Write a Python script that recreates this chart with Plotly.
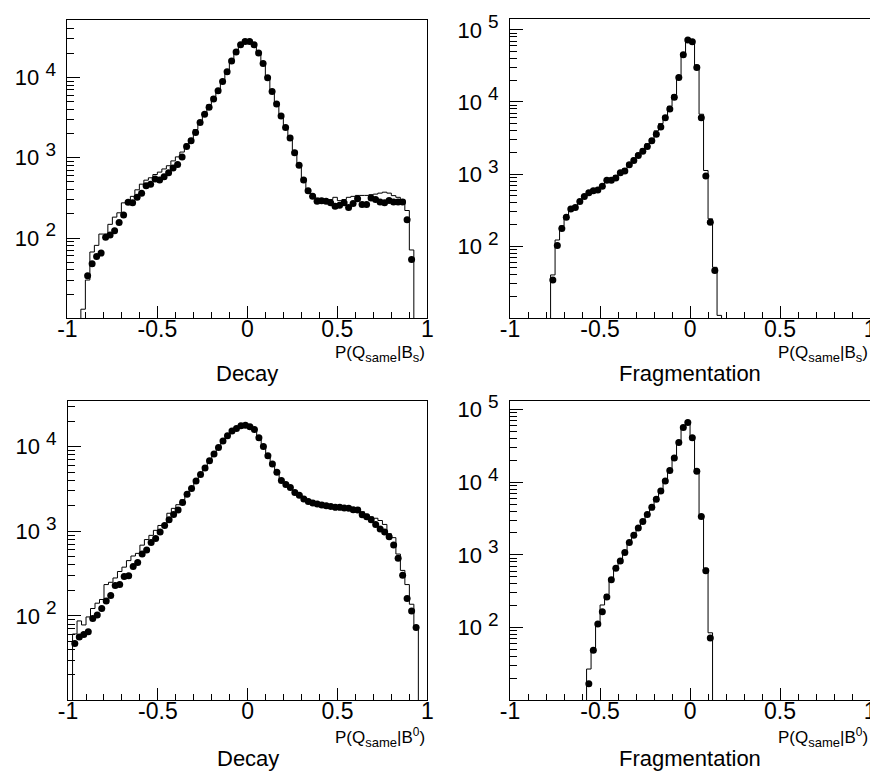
import numpy as np
import plotly.graph_objects as go

# ---------------- data (80 bins of width 0.025 on [-1, 1]) ----------------
N_BINS = 80
X_MIN, X_MAX = -1.0, 1.0

# Bs, decay
BS_DEC_DATA_FIRST = 4
BS_DEC_DATA = [34, 48, 59, 65, 102, 109, 123, 156, 193, 279, 274, 321, 362, 446, 467, 543,
               527, 579, 649, 746, 820, 1019, 1377, 1629, 2061, 2735, 3459, 4256, 5383, 6808,
               8851, 11722, 15996, 20606, 25351, 27861, 27861, 25351, 20045, 14825, 9908,
               6668, 4667, 3296, 2377, 1758, 1151, 805, 527, 387, 330, 286, 292, 286, 274,
               249, 256, 274, 240, 269, 309, 261, 261, 315, 301, 281, 274, 294, 281, 281,
               281, 169, 54]
BS_DEC_MC_FIRST = 3
BS_DEC_MC = [13, 30, 67, 81, 112, 112, 148, 182, 206, 274, 274, 330, 398, 468, 525, 562,
             617, 661, 724, 794, 912, 1023, 1175, 1479, 1738, 2239, 2884, 3631, 4571, 5754,
             7079, 9333, 12303, 16596, 21878, 26303, 29512, 29512, 26303, 20417, 14791,
             10233, 6918, 4677, 3388, 2455, 1862, 1230, 851, 550, 398, 352, 315, 309, 301,
             301, 321, 292, 301, 321, 330, 339, 339, 339, 346, 352, 362, 372, 362, 337,
             321, 301, 220, 71]

# Bs, fragmentation
BS_FRAG_DATA_FIRST = 9
BS_FRAG_DATA = [34, 102, 176, 252, 327, 345, 417, 488, 552, 589, 601, 681, 822, 822, 885,
                1047, 1104, 1346, 1542, 1807, 2070, 2421, 2897, 3573, 4498, 6026, 7998,
                11668, 21878, 45082, 72277, 68549, 29992, 6026, 942, 215, 46]
BS_FRAG_MC_FIRST = 9
BS_FRAG_MC = [40, 122, 191, 269, 347, 367, 437, 513, 582, 617, 631, 716, 851, 871, 955,
              1096, 1189, 1445, 1660, 1950, 2239, 2630, 3090, 3981, 5012, 6457, 8710,
              12589, 22909, 47863, 74131, 70795, 32359, 6761, 1122, 240, 51, 11]

# B0, decay
B0_DEC_DATA_FIRST = 1
B0_DEC_DATA = [47, 56, 60, 65, 93, 102, 122, 150, 174, 228, 234, 292, 298, 383, 426, 537,
               598, 735, 818, 977, 1169, 1361, 1570, 1778, 2188, 2735, 3184, 3908, 4677,
               5598, 6808, 8147, 9727, 11641, 13428, 15241, 16368, 17579, 17865, 17100,
               15922, 12735, 10000, 7780, 6223, 4977, 3981, 3573, 3273, 2858, 2661, 2393,
               2244, 2148, 2089, 2037, 2000, 1963, 1914, 1914, 1879, 1862, 1795, 1778, 1567,
               1479, 1368, 1202, 1059, 977, 861, 687, 479, 302, 160, 114, 73]
B0_DEC_MC_FIRST = 1
B0_DEC_MC = [61, 87, 78, 97, 122, 141, 156, 234, 249, 280, 334, 376, 449, 509, 547, 684,
             796, 893, 1023, 1169, 1222, 1629, 1862, 2056, 2350, 2735, 3311, 3981, 4786,
             5754, 6918, 8318, 9886, 11749, 13490, 15311, 16406, 17579, 17865, 17100,
             15849, 12735, 9886, 7674, 6166, 4898, 3981, 3548, 3273, 2884, 2661, 2399,
             2239, 2163, 2089, 2042, 1995, 1972, 1928, 1928, 1905, 1884, 1841, 1820, 1698,
             1585, 1479, 1422, 1337, 1202, 935, 839, 537, 344, 234, 137, 70]

# B0, fragmentation
B0_FRAG_DATA_FIRST = 17
B0_FRAG_DATA = [17, 49, 112, 166, 263, 456, 656, 826, 1081, 1479, 1858, 2339, 2877, 3581,
                4498, 5834, 7568, 10351, 14454, 21429, 34995, 56364, 65917, 40832, 14125,
                3365, 604, 72]
B0_FRAG_MC_FIRST = 17
B0_FRAG_MC = [27, 49, 106, 205, 286, 481, 692, 851, 1140, 1542, 1959, 2410, 2972, 3733,
              4742, 6152, 7980, 10914, 15382, 22594, 36813, 59429, 68707, 42170, 14894,
              3581, 656, 85]

X_TICKS = [-1, -0.5, 0, 0.5, 1]
X_TICK_LABELS = ["-1", "-0.5", "0", "0.5", "1"]
TITLES = ["Decay", "Fragmentation", "Decay", "Fragmentation"]
XLABEL_BS = "P(Q<sub>same</sub>|B<sub>s</sub>)"
XLABEL_B0 = "P(Q<sub>same</sub>|B<sup>0</sup>)"

# ---------------- layout geometry (pixels of the 878x779 page) ----------------
PAGE_W, PAGE_H = 878, 779
BODY_MARGIN = 8          # default page margin around the plot div
W, H = PAGE_W - BODY_MARGIN, PAGE_H - BODY_MARGIN
FONT = "Liberation Sans, Arial, Helvetica, sans-serif"


def px_x(v):
    return (v - BODY_MARGIN) / W


def px_y(v):
    return 1 - (v - BODY_MARGIN) / H


panels = [
    dict(data=BS_DEC_DATA, d0=BS_DEC_DATA_FIRST, mc=BS_DEC_MC, m0=BS_DEC_MC_FIRST,
         x=(58.3, 425.0), y=(9.3, 311.7), yr=(1.0, 4.71), xlabel=XLABEL_BS),
    dict(data=BS_FRAG_DATA, d0=BS_FRAG_DATA_FIRST, mc=BS_FRAG_MC, m0=BS_FRAG_MC_FIRST,
         x=(509.3, 876.0), y=(8.3, 311.7), yr=(1.0, 5.146), xlabel=XLABEL_BS),
    dict(data=B0_DEC_DATA, d0=B0_DEC_DATA_FIRST, mc=B0_DEC_MC, m0=B0_DEC_MC_FIRST,
         x=(59.0, 425.0), y=(396.0, 699.3), yr=(1.0, 4.533), xlabel=XLABEL_B0),
    dict(data=B0_FRAG_DATA, d0=B0_FRAG_DATA_FIRST, mc=B0_FRAG_MC, m0=B0_FRAG_MC_FIRST,
         x=(509.3, 876.0), y=(396.0, 699.3), yr=(1.0, 5.108), xlabel=XLABEL_B0),
]

edges = np.linspace(X_MIN, X_MAX, N_BINS + 1)
centers = 0.5 * (edges[:-1] + edges[1:])
FLOOR = 1.0  # below the visible log range: empty bins drop to the axis


def full(values, first):
    arr = np.zeros(N_BINS)
    arr[first:first + len(values)] = values
    return arr


fig = go.Figure()
layout = dict(width=W, height=H, margin=dict(l=0, r=0, t=0, b=0),
              paper_bgcolor="white", plot_bgcolor="white", showlegend=False,
              font=dict(family=FONT, color="black"))
annotations = []

for k, p in enumerate(panels):
    sfx = "" if k == 0 else str(k + 1)
    mc = full(p["mc"], p["m0"])
    mc_y = np.where(mc > 0, mc, FLOOR)
    xs = np.append(edges[:-1], edges[-1])
    ys = np.append(mc_y, mc_y[-1])
    fig.add_trace(go.Scatter(x=xs, y=ys, mode="lines",
                             line=dict(shape="hv", color="black", width=1),
                             xaxis="x" + sfx, yaxis="y" + sfx, hoverinfo="skip"))
    dv = full(p["data"], p["d0"])
    m = dv > 0
    fig.add_trace(go.Scatter(x=centers[m], y=dv[m], mode="markers",
                             marker=dict(color="black", size=7),
                             xaxis="x" + sfx, yaxis="y" + sfx))

    lo, hi = p["yr"]
    decades = [d for d in range(int(np.floor(lo)) + 1, int(np.floor(hi)) + 1)]
    minor_vals = [m_ * 10 ** d for d in range(int(np.floor(lo)), int(np.ceil(hi)) + 1)
                  for m_ in range(2, 10) if lo <= np.log10(m_ * 10 ** d) <= hi]
    ytext = ["10 <sup><span style='font-size:19px'>%d</span></sup>" % d for d in decades]

    layout["xaxis" + sfx] = dict(
        domain=[px_x(p["x"][0]), px_x(p["x"][1])], anchor="y" + sfx,
        range=[X_MIN, X_MAX], showline=True, mirror=True, linecolor="black", linewidth=1,
        ticks="inside", ticklen=12, tickwidth=1, tickcolor="black",
        tickvals=X_TICKS, ticktext=X_TICK_LABELS,
        minor=dict(ticks="inside", ticklen=6, tickwidth=1, tickcolor="black",
                   tickvals=list(np.round(np.arange(-0.9, 1.0, 0.1), 2))),
        showgrid=False, zeroline=False, tickfont=dict(size=23, family=FONT, color="black"),
        ticklabelstandoff=-10)
    layout["yaxis" + sfx] = dict(
        domain=[px_y(p["y"][1]), px_y(p["y"][0])], anchor="x" + sfx,
        type="log", range=[lo, hi], showline=True, mirror=True, linecolor="black",
        linewidth=1, ticks="inside", ticklen=13, tickwidth=1, tickcolor="black",
        tickvals=[10 ** d for d in decades], ticktext=ytext,
        minor=dict(ticks="inside", ticklen=7, tickwidth=1, tickcolor="black",
                   tickvals=minor_vals),
        showgrid=False, zeroline=False, tickfont=dict(size=22, family=FONT, color="black"),
        ticklabelstandoff=6)

    row_top = k < 2
    annotations.append(dict(
        text=p["xlabel"].replace("<sub>", "<sub><span style='font-size:13px'>")
        .replace("</sub>", "</span></sub>"),
        xref="paper", yref="paper", x=px_x(p["x"][1]),
        y=px_y(347.6 if row_top else 736.7), xanchor="right", yanchor="middle",
        showarrow=False, font=dict(size=17, family=FONT, color="black")))
    annotations.append(dict(
        text=TITLES[k], xref="paper", yref="paper",
        x=px_x((p["x"][0] + p["x"][1]) / 2), y=px_y(368.0 if row_top else 758.0),
        xanchor="center", yanchor="middle", showarrow=False,
        font=dict(size=22, family=FONT, color="black")))

layout["annotations"] = annotations
fig.update_layout(**layout)
fig.write_html("out.html")
